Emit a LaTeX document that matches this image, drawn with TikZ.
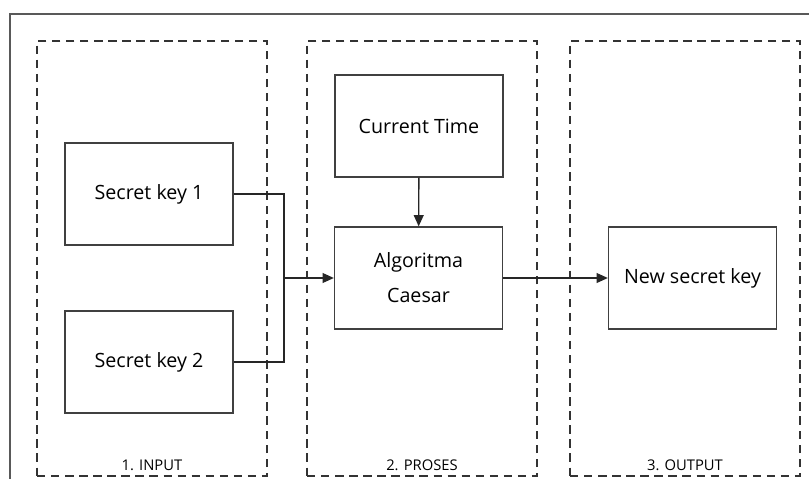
\documentclass[tikz,border=0pt]{standalone}
\usepackage{fontspec}
\setmainfont{Open Sans}
\usetikzlibrary{arrows.meta,positioning}

\begin{document}
\begin{tikzpicture}[
  x=0.025cm,y=-0.025cm,>={Triangle[length=8pt,width=7pt]},
  stage/.style={draw=black!80,line width=0.9pt,dash pattern=on 6pt off 4pt,
    minimum width=5.75cm,minimum height=10.875cm,inner sep=0pt},
  block/.style={draw=black!75,line width=0.9pt,align=center,
    font=\fontsize{14}{25}\selectfont,minimum width=4.2cm,minimum height=2.55cm,
    inner sep=2pt},
  phase/.style={font=\fontsize{10.5}{12}\selectfont,inner sep=1pt},
  link/.style={draw=black!85,line width=1pt}
]
\clip (0,0) rectangle (809,479);
\fill[white] (0,0) rectangle (809,479);
% frame round the three stages
\draw[black!65,line width=1.2pt] (10,490) -- (10,14) -- (820,14);

% stages
\node[stage] (input)  at (152,258.5) {};
\node[stage] (proses) at (422,258.5) {};
\node[stage] (output) at (685,258.5) {};
\node[phase,above=3pt of input.south]  {1. INPUT};
\node[phase,above=3pt of proses.south] {2. PROSES};
\node[phase,above=3pt of output.south] {3. OUTPUT};

% blocks
\node[block] (key1)   at (149,194)   {Secret key 1};
\node[block] (key2)   at (149,362)   {Secret key 2};
\node[block] (time)   at (419,126)   {Current Time};
\node[block] (caesar) at (418.5,278) {Algoritma\\Caesar};
\node[block] (newkey) at (692.5,278) {New secret key};

\coordinate (join) at (284,278);
\draw[link] (key1.east) -| (join);
\draw[link] (key2.east) -| (join);
\draw[link,->] (join) -- (caesar.west);
\draw[link,->] (time) -- (caesar);
\draw[link,->] (caesar) -- (newkey);
\end{tikzpicture}
\end{document}
